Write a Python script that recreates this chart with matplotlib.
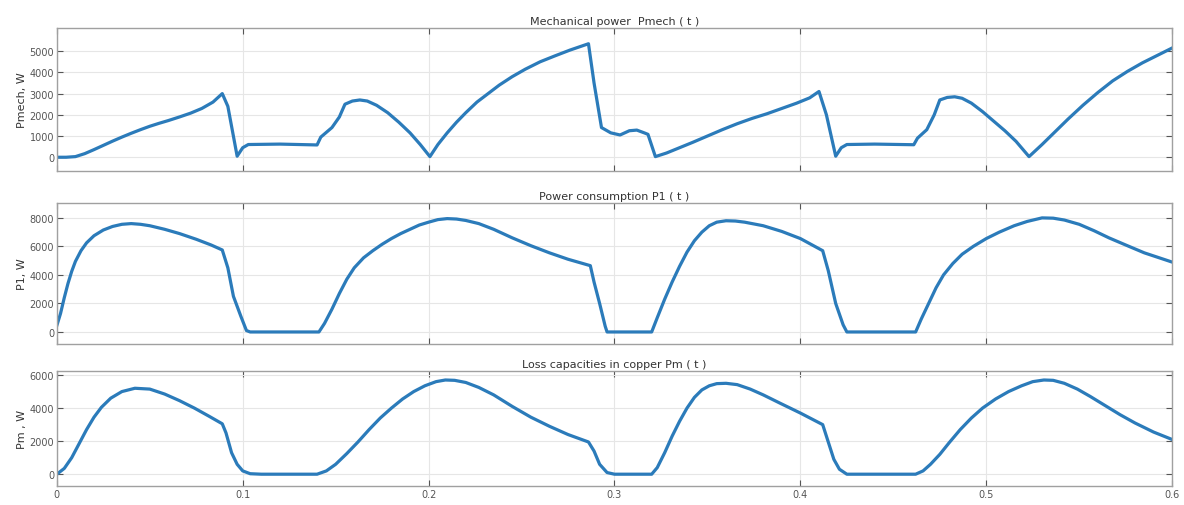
import matplotlib.pyplot as plt

# Mechanical power Pmech(t)
t_mech = [0, 0.005, 0.01, 0.015, 0.02, 0.025, 0.03, 0.035, 0.04, 0.045, 0.05, 0.055, 0.06, 0.066,
          0.072, 0.078, 0.084, 0.089, 0.092, 0.097, 0.1, 0.103, 0.12, 0.14, 0.142, 0.148, 0.152,
          0.155, 0.159, 0.163, 0.167, 0.172, 0.178, 0.184, 0.19, 0.1955, 0.2007, 0.205, 0.21,
          0.215, 0.22, 0.226, 0.232, 0.238, 0.245, 0.252, 0.26, 0.268, 0.276, 0.286, 0.289, 0.293,
          0.298, 0.303, 0.308, 0.312, 0.316, 0.318, 0.322, 0.328, 0.335, 0.342, 0.35, 0.358,
          0.366, 0.374, 0.382, 0.39, 0.398, 0.405, 0.41, 0.414, 0.419, 0.422, 0.425, 0.44, 0.461,
          0.463, 0.468, 0.472, 0.475, 0.479, 0.483, 0.487, 0.492, 0.498, 0.504, 0.51, 0.516,
          0.523, 0.53, 0.537, 0.544, 0.552, 0.56, 0.568, 0.576, 0.584, 0.592, 0.6]
p_mech = [0, 0, 30, 170, 360, 560, 760, 950, 1130, 1300, 1460, 1600, 1730, 1900,
          2080, 2300, 2600, 3000, 2400, 50, 450, 600, 620, 580, 950, 1400, 1900,
          2500, 2650, 2700, 2650, 2450, 2100, 1650, 1150, 600, 30, 600, 1150,
          1650, 2100, 2600, 3000, 3400, 3800, 4150, 4500, 4780, 5050, 5350, 3500, 1400,
          1150, 1050, 1250, 1280, 1150, 1080, 30, 200, 450, 700, 1000, 1300,
          1580, 1830, 2050, 2300, 2550, 2800, 3100, 2000, 50, 450, 600, 620, 590,
          900, 1300, 2000, 2700, 2820, 2850, 2780, 2550, 2150, 1700, 1250, 750,
          30, 600, 1200, 1800, 2450, 3050, 3600, 4050, 4450, 4800, 5150]

# Power consumption P1(t)
t_p1 = [0, 0.002, 0.004, 0.006, 0.008, 0.01, 0.013, 0.016, 0.02, 0.025, 0.03, 0.035, 0.04, 0.045,
        0.05, 0.058, 0.066, 0.075, 0.083, 0.089, 0.092, 0.095, 0.099, 0.102, 0.104, 0.141,
        0.144, 0.148, 0.152, 0.156, 0.16, 0.165, 0.17, 0.175, 0.18, 0.185, 0.19, 0.195, 0.2,
        0.205, 0.21, 0.215, 0.22, 0.227, 0.235, 0.245, 0.255, 0.265, 0.275, 0.287, 0.289,
        0.292, 0.295, 0.296, 0.32, 0.323, 0.327, 0.331, 0.335, 0.339, 0.343, 0.347, 0.351,
        0.355, 0.36, 0.365, 0.37, 0.38, 0.39, 0.4, 0.412, 0.415, 0.419, 0.423, 0.425, 0.462,
        0.465, 0.469, 0.473, 0.477, 0.482, 0.487, 0.493, 0.5, 0.507, 0.515, 0.522, 0.53,
        0.536, 0.542, 0.55, 0.558, 0.566, 0.575, 0.585, 0.6]
p1 = [450, 1300, 2400, 3400, 4250, 4950, 5700, 6250, 6750, 7150, 7400, 7550, 7600, 7550,
      7450, 7200, 6900, 6500, 6100, 5750, 4500, 2500, 1100, 100, 0, 0,
      600, 1600, 2700, 3700, 4500, 5200, 5700, 6150, 6550, 6900, 7200, 7500, 7700,
      7880, 7950, 7920, 7820, 7600, 7200, 6600, 6050, 5550, 5100, 4650, 3500,
      2000, 400, 0, 0, 1000, 2300, 3500, 4600, 5600, 6400, 7000, 7450,
      7700, 7800, 7780, 7700, 7450, 7050, 6550, 5700, 4300, 2000, 500, 0, 0,
      900, 2000, 3100, 4000, 4800, 5450, 6000, 6550, 7000, 7450, 7750, 8000,
      7980, 7850, 7550, 7100, 6600, 6100, 5550, 4900]

# Loss capacities in copper Pm(t)
t_pm = [0, 0.004, 0.008, 0.012, 0.016, 0.02, 0.024, 0.029, 0.035, 0.042, 0.05, 0.058, 0.066,
        0.074, 0.082, 0.089, 0.091, 0.094, 0.097, 0.1, 0.104, 0.11, 0.14, 0.145, 0.15, 0.156,
        0.162, 0.168, 0.174, 0.18, 0.186, 0.192, 0.198, 0.204, 0.209, 0.214, 0.22, 0.227,
        0.235, 0.245, 0.255, 0.265, 0.275, 0.286, 0.289, 0.292, 0.296, 0.3, 0.32, 0.323,
        0.327, 0.331, 0.335, 0.339, 0.343, 0.347, 0.351, 0.355, 0.36, 0.366, 0.373, 0.38,
        0.389, 0.4, 0.412, 0.414, 0.418, 0.421, 0.425, 0.462, 0.466, 0.47, 0.475, 0.48, 0.486,
        0.492, 0.498, 0.505, 0.512, 0.519, 0.525, 0.531, 0.536, 0.542, 0.549, 0.556, 0.564,
        0.572, 0.58, 0.59, 0.6]
pm = [0, 350, 1000, 1850, 2700, 3450, 4050, 4600, 5000, 5200, 5150, 4850, 4450,
      4000, 3500, 3050, 2500, 1300, 600, 200, 30, 0, 0, 200, 600, 1250,
      1950, 2700, 3400, 4000, 4550, 5000, 5350, 5600, 5700, 5680, 5550, 5250,
      4800, 4100, 3450, 2900, 2400, 1950, 1400, 600, 100, 0, 0, 400,
      1300, 2300, 3200, 4000, 4650, 5100, 5350, 5480, 5500, 5420, 5150, 4800,
      4300, 3700, 3000, 2300, 900, 300, 0, 0, 200, 600, 1200, 1900, 2700,
      3400, 4000, 4550, 5000, 5350, 5600, 5700, 5680, 5500, 5150, 4700, 4150,
      3600, 3100, 2550, 2100]

titles = ['Mechanical power  Pmech ( t )', 'Power consumption P1 ( t )', 'Loss capacities in copper Pm ( t )']
ylabels = ['Pmech, W', 'P1, W', 'Pm , W']
yticks = [[0, 1000, 2000, 3000, 4000, 5000], [0, 2000, 4000, 6000, 8000], [0, 2000, 4000, 6000]]
ylims = [(-650, 6100), (-850, 9050), (-700, 6250)]
xticks = [0, 0.1, 0.2, 0.3, 0.4, 0.5, 0.6]
xticklabels = ['0', '0.1', '0.2', '0.3', '0.4', '0.5', '0.6']

# axes boxes in figure fractions [left, bottom, width, height]
boxes = [[0.048, 0.660, 0.942, 0.283],
         [0.048, 0.318, 0.942, 0.279],
         [0.048, 0.038, 0.942, 0.227]]

line_color = '#2b7bba'
fig = plt.figure(figsize=(11.84, 5.06), dpi=100)

series = [(t_mech, p_mech), (t_p1, p1), (t_pm, pm)]
for i, (tx, vy) in enumerate(series):
    ax = fig.add_axes(boxes[i])
    ax.plot(tx, vy, color=line_color, lw=2.3, solid_joinstyle='round')
    ax.set_xlim(0, 0.6)
    ax.set_ylim(*ylims[i])
    ax.set_yticks(yticks[i])
    ax.set_xticks(xticks)
    if i == 2:
        ax.set_xticklabels(xticklabels)
    else:
        ax.set_xticklabels([])
    ax.grid(True, color='#e6e6e6', lw=0.8)
    ax.set_axisbelow(True)
    ax.tick_params(direction='in', length=4, labelsize=7, colors='#555555',
                   top=True, right=True, pad=2)
    for s in ax.spines.values():
        s.set_color('#a0a0a0')
        s.set_linewidth(1.0)
    ax.set_title(titles[i], fontsize=8, color='#333333', pad=3)
    ax.set_ylabel(ylabels[i], fontsize=8, color='#333333', labelpad=2)

fig.savefig('out.png', dpi=100)
